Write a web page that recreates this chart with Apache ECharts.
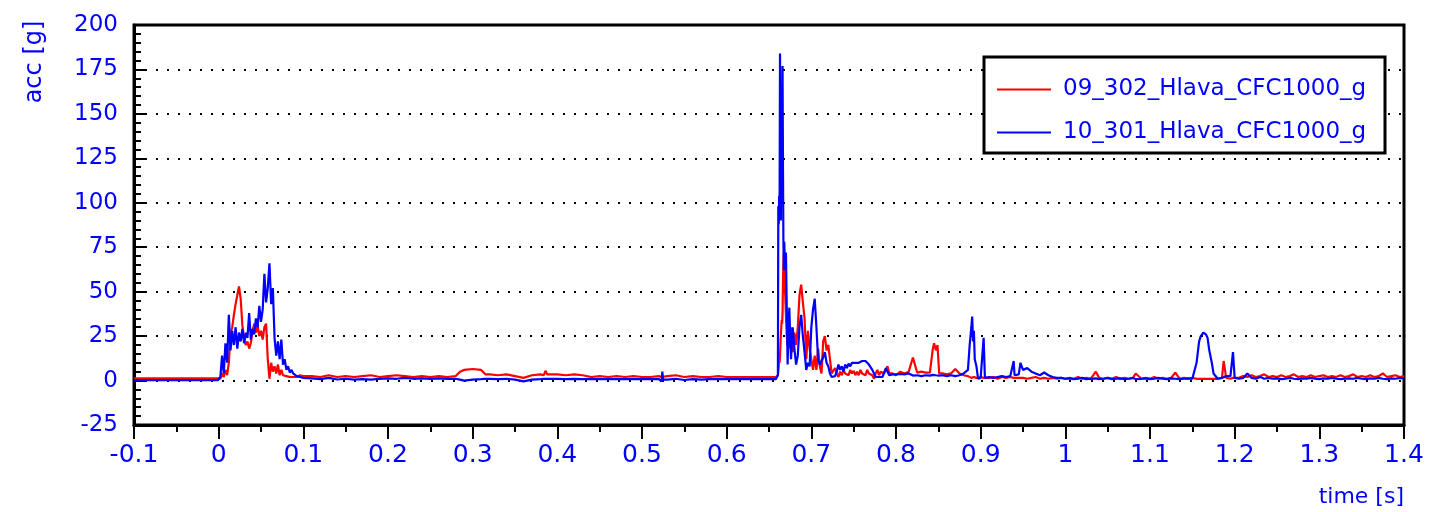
<!DOCTYPE html>
<html><head><meta charset="utf-8">
<script src="https://cdn.jsdelivr.net/npm/echarts@6/dist/echarts.min.js"></script>
<style>html,body{margin:0;padding:0;background:#fff}#c{width:1432px;height:512px}</style>
</head><body><div id="c"></div>
<script>
// ---------- data ----------
const seriesNames = ['09_302_Hlava_CFC1000_g', '10_301_Hlava_CFC1000_g'];
const xTickLabels = ['-0.1','0','0.1','0.2','0.3','0.4','0.5','0.6','0.7','0.8','0.9','1','1.1','1.2','1.3','1.4'];
const yAxisTitle = 'acc [g]';
const xAxisTitle = 'time [s]';

// segment A: before impact
const timeA = [-0.1, -0.05, -0.001];
const redA  = [1.2, 1.2, 1.2];
const blueA = [0.2, 0.3, 0.2];

// segment B: first impact 0 .. 0.1 s
const timeB = [0.002,0.004,0.006,0.008,0.010,0.012,0.014,0.016,0.018,0.020,
  0.022,0.024,0.026,0.028,0.030,0.032,0.034,0.036,0.038,0.040,
  0.042,0.044,0.046,0.048,0.050,0.052,0.054,0.056,0.058,0.060,
  0.062,0.064,0.066,0.068,0.070,0.072,0.074,0.076,0.078,0.080,
  0.082,0.084,0.086,0.088,0.090,0.092,0.094,0.096,0.098,0.100];
const redB = [1,4,2,6,3,10,26,30,37,43,
  48,53,46,31,24,20,22,18,21,28,
  32,27,31,25,28,23,30,32,12,1,
  10,5,8,4,9,3,6,3,4,2.5,
  3.5,2,3,2,3,2,2.5,3,2,2.5];
const blueB = [2,14,4,21,10,37,17,28,20,30,
  18,27,22,29,21,27,24,38,23,29,
  26,35,30,42,33,40,60,44,52,66,
  43,52,24,14,22,12,23,9,12,6,
  8,4.5,6,4,3.5,2.5,3,2,2.5,1.5];

// segment C: quiet phase 0.11 .. 0.658 s
const timeC = [0.11,0.12,0.13,0.14,0.15,0.16,0.17,0.18,0.19,0.20,
  0.21,0.22,0.23,0.24,0.25,0.26,0.27,0.28,0.285,0.29,
  0.30,0.31,0.315,0.32,0.33,0.34,0.35,0.36,0.37,0.38,
  0.384,0.386,0.388,0.39,0.40,0.41,0.42,0.43,0.44,0.45,
  0.46,0.47,0.48,0.49,0.50,0.51,0.52,0.523,0.524,0.525,
  0.53,0.54,0.55,0.56,0.57,0.58,0.59,0.60,0.61,0.62,
  0.63,0.64,0.65,0.658];
const redC = [2.5,2,3,2,2.5,2,2.5,3,2,2.5,
  3,2.5,2,2.5,2,2.5,2,2.5,5,6,
  6.5,6,3.5,3.5,3,3.5,2.5,1.5,3,3.5,
  3,5.5,3.5,3,3.5,3,3.5,3,2,2.5,
  2,2.5,2,2.5,2,2,2.5,2,3,2,
  2.5,3,2,2.5,2,2,2.5,2,2,2,
  2,2,2,2];
const blueC = [1.2,0.8,1.5,0.6,1,0.5,0.8,0.5,1,1.2,
  1,1.5,1,1.2,1,1.2,1,1,0.5,0,
  0.5,0.8,1,1,0.8,1,0.5,-0.5,0.5,0.8,
  1,0.5,1,0.8,1,0.8,1,0.8,1,0.8,
  0.8,0.8,0.8,0.8,0.8,0.8,0.8,-0.5,5,0.5,
  0.5,1,0.3,0.8,0.5,0.8,0.8,0.8,0.8,0.8,
  0.8,0.8,0.8,0.8];

// segment D: second impact 0.66 .. 0.80 s
const timeD = [0.660,0.6605,0.661,0.6615,0.662,0.6625,0.663,0.6635,0.664,0.6645,
  0.665,0.6655,0.666,0.6665,0.667,0.6675,0.668,0.669,0.670,0.671,
  0.672,0.673,0.674,0.675,0.676,0.678,0.680,0.682,0.684,0.686,
  0.688,0.690,0.692,0.694,0.696,0.698,0.700,0.702,0.704,0.706,
  0.708,0.710,0.712,0.714,0.716,0.718,0.720,0.722,0.724,0.726,
  0.728,0.730,0.732,0.734,0.736,0.738,0.740,0.742,0.744,0.746,
  0.748,0.750,0.752,0.754,0.756,0.758,0.760,0.762,0.764,0.766,
  0.768,0.770,0.772,0.774,0.776,0.778,0.780,0.782,0.784,0.786,
  0.788,0.790,0.792,0.794,0.796,0.798,0.800];
const redD = [2,3,5,8,12,10,14,20,26,30,
  34,32,38,55,66,72,65,50,37,25,
  20,32,28,18,30,16,27,20,30,48,
  54,44,35,12,28,18,12,6,14,6,
  18,8,4,22,25,17,20,12,4,3,
  7,4,2,5,3,6,4,5,3,6,
  4,5.5,3,5,3,6,4,5,3,6,
  4,5,3,1,4,6,3,5,6,4,
  6,8,4,5,4,5,3];
const blueD = [0.8,3,98,88,104,95,184,150,90,125,
  155,130,177,120,79,62,78,63,72,40,
  9,30,41,25,12,30,18,9,14,30,
  37,25,16,6,10,8,30,40,46,30,
  12,9,8,13,16,10,8,4,2,1,
  2.5,5,9,6,8,5,9,7,9.5,8,
  10,9,10,9,10,9,11,12,11,10,
  9,9,6,4,2,1.5,2,1.5,2,3,
  7,5,3,4,3.5,4,3.5];

// segment E: decay 0.805 .. 1.4 s
const timeE = [0.805,0.81,0.815,0.82,0.825,0.83,0.835,0.84,0.8435,0.845,
  0.847,0.849,0.851,0.855,0.86,0.865,0.87,0.875,0.88,0.885,
  0.887,0.889,0.890,0.891,0.892,0.893,0.895,0.897,0.90,0.902,
  0.9035,0.905,0.91,0.915,0.92,0.925,0.93,0.935,0.939,0.94,
  0.945,0.947,0.95,0.955,0.96,0.965,0.97,0.975,0.98,0.985,
  0.99,0.995,1.0,1.005,1.01,1.015,1.02,1.025,1.03,1.036,
  1.04,1.045,1.05,1.055,1.06,1.065,1.07,1.075,1.08,1.083,
  1.09,1.095,1.10,1.105,1.11,1.115,1.12,1.125,1.13,1.135,
  1.14,1.145,1.15,1.155,1.158,1.16,1.163,1.166,1.168,1.17,
  1.173,1.175,1.18,1.185,1.187,1.19,1.195,1.198,1.20,1.205,
  1.21,1.215,1.22,1.225,1.23,1.235,1.24,1.245,1.25,1.255,
  1.26,1.265,1.27,1.275,1.28,1.285,1.29,1.295,1.30,1.305,
  1.31,1.315,1.32,1.325,1.33,1.335,1.34,1.345,1.35,1.355,
  1.36,1.365,1.37,1.375,1.38,1.385,1.39,1.395,1.40];
const redE = [5,4,5,13,4.5,5,4.5,4.5,18,21,
  17,20,4,4,3.5,4,6.5,4,3,2.5,
  2,1.5,2,1.5,2,1.5,1.5,2,2,1,
  1.5,1,1.5,2,1,2,1.5,2,1.5,2,
  1.5,2,1.5,1,1.5,2,1,1.5,1,1.5,
  1,1.5,1,1.5,1,2,1,1.5,1,5,
  1.5,1,1.5,1,2,1,1.5,1,1.5,4,
  1,1.5,1,2,1,1.5,1,1.5,4.5,1,
  1.5,1,1.5,1,1,1,1,1,1,1,
  1,1,1,1.5,11,1.5,1,1.5,2,1.5,
  2.5,2,3,2,2.5,3.5,2,2.5,2,3,
  2,2.5,3.5,2,2.5,2,3,2,2.5,3,
  2,2.5,2,3,2,2.5,3.5,2,2.5,2,
  3,2,2.5,4,2,2.5,3,2,2.5];
const blueE = [3.7,3.5,4,2.8,3,2.5,3,2.8,3.2,2.5,
  3,2.5,2.8,3,2.5,3,2.5,3,4,6,
  20,30,36,22,28,12,8,1,1.5,1,
  24,1.5,2,1.5,2,2.5,2,2.5,11,3,
  3.5,10,6,7,5,4,3,4.5,3,2,
  1.5,1.5,1,1.2,0.8,1,1.5,0.8,1,1.2,
  0.8,1,1.5,0.8,1,1.2,0.8,1,1.5,0.8,
  1,1.2,0.8,1,1.5,1,0.8,1.2,1,0.8,
  1,1.2,1,10,22,25,27,26,24,17,
  10,4,1,1.5,1.5,2.5,2.5,16,1.5,1,
  1.5,4,1.5,1,2,1,1.5,1,1.2,0.8,
  1,1.5,1,0.8,1.2,1,1.5,1,0.8,1.2,
  1,1.5,1,0.8,1,1.2,1,1.5,1,0.8,
  1.2,1,1.5,1,0.8,1.2,1,1.5,1];

// ---------- build ----------
const timeAll = [].concat(timeA, timeB, timeC, timeD, timeE);
const redAll  = [].concat(redA, redB, redC, redD, redE);
const blueAll = [].concat(blueA, blueB, blueC, blueD, blueE);
const redData  = timeAll.map((t, i) => [t, redAll[i]]);
const blueData = timeAll.map((t, i) => [t, blueAll[i]]);

const BLUE = '#0000ff', RED = '#ff0000', FONT = 'DejaVu Sans';
const chart = echarts.init(document.getElementById('c'), null, {renderer: 'canvas'});
chart.setOption({
  animation: false,
  backgroundColor: '#fff',
  grid: {left: 134, right: 28, top: 25, bottom: 87, show: true, borderColor: '#000', borderWidth: 3, backgroundColor: 'transparent'},
  xAxis: {
    type: 'value', min: -0.1, max: 1.4, interval: 0.1,
    axisLine: {show: true, onZero: false, lineStyle: {color: '#000', width: 3}},
    axisTick: {show: true, inside: false, length: 14, lineStyle: {color: '#000', width: 2}},
    minorTick: {show: true, splitNumber: 2, length: 7, lineStyle: {color: '#000', width: 2}},
    splitLine: {show: false},
    axisLabel: {color: BLUE, fontFamily: FONT, fontSize: 25, margin: 18,
      formatter: v => xTickLabels[Math.round((v + 0.1) * 10)] ?? ''}
  },
  yAxis: {
    type: 'value', min: -25, max: 200, interval: 25,
    axisLine: {show: true, onZero: false, lineStyle: {color: '#000', width: 3}},
    axisTick: {show: true, inside: true, length: 12, lineStyle: {color: '#000', width: 2}},
    minorTick: {show: true, splitNumber: 5, length: 7, lineStyle: {color: '#000', width: 2}},
    splitLine: {show: true, lineStyle: {color: '#000', width: 2, type: [2, 9]}},
    axisLabel: {color: BLUE, fontFamily: FONT, fontSize: 23, margin: 16}
  },
  legend: {
    orient: 'vertical', left: 992, top: 73, itemWidth: 54, itemHeight: 2, itemGap: 20,
    icon: 'rect',
    textStyle: {color: BLUE, fontFamily: FONT, fontSize: 23, padding: [0, 0, 0, 7]},
    data: seriesNames, z: 20
  },
  graphic: [
    {type: 'rect', z: 10, shape: {x: 984, y: 57, width: 401, height: 96}, style: {fill: '#fff', stroke: '#000', lineWidth: 3}},
    {type: 'text', z: 10, x: 35, y: 62, rotation: Math.PI / 2,
      style: {text: yAxisTitle, fill: BLUE, font: '24px "DejaVu Sans"', align: 'center', verticalAlign: 'middle'}},
    {type: 'text', z: 10, x: 1404, y: 497,
      style: {text: xAxisTitle, fill: BLUE, font: '22px "DejaVu Sans"', align: 'right', verticalAlign: 'middle'}}
  ],
  series: [
    {name: seriesNames[0], type: 'line', data: redData, symbol: 'none', showSymbol: false, sampling: null,
      lineStyle: {color: RED, width: 2.2}, itemStyle: {color: RED}, z: 2},
    {name: seriesNames[1], type: 'line', data: blueData, symbol: 'none', showSymbol: false, sampling: null,
      lineStyle: {color: BLUE, width: 2.2}, itemStyle: {color: BLUE}, z: 3}
  ]
});
</script></body></html>
